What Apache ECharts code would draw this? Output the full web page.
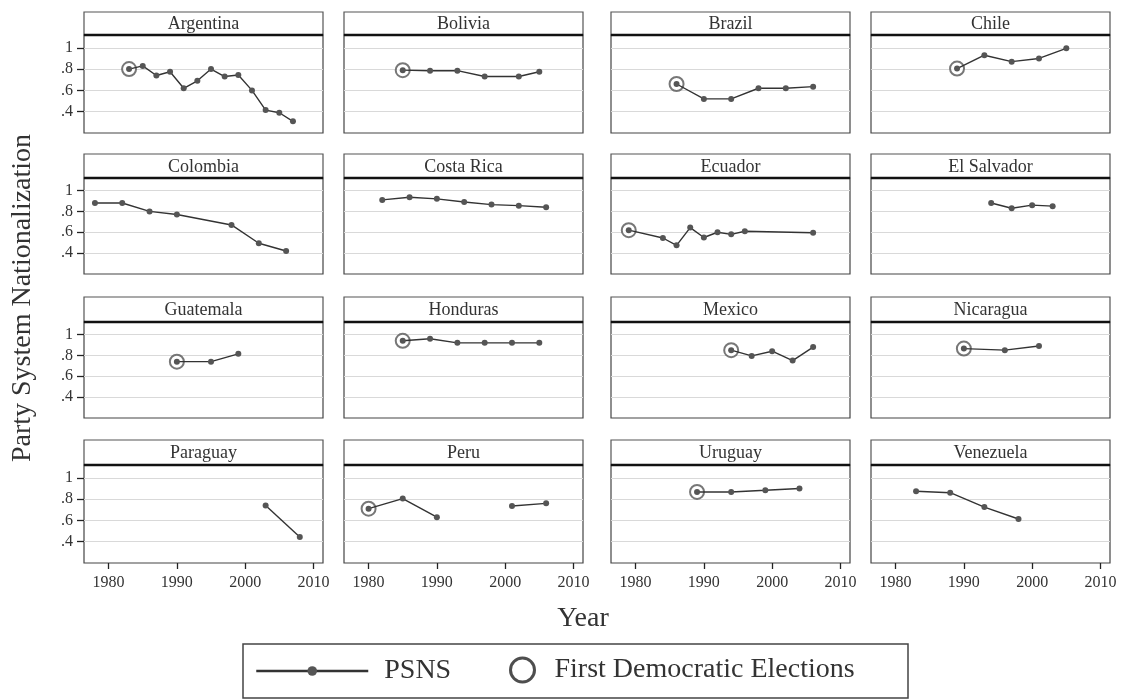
<!DOCTYPE html>
<html><head><meta charset="utf-8">
<script src="https://cdn.jsdelivr.net/npm/echarts@6.0.0/dist/echarts.min.js"></script>
<style>html,body{margin:0;padding:0;background:#fff}#chart{width:1126px;height:699px}</style>
</head><body><div id="chart"></div>
<script>
const countries = ['Argentina','Bolivia','Brazil','Chile','Colombia','Costa Rica','Ecuador','El Salvador',
  'Guatemala','Honduras','Mexico','Nicaragua','Paraguay','Peru','Uruguay','Venezuela'];

const yearsArgentina = [1983,1985,1987,1989,1991,1993,1995,1997,1999,2001,2003,2005,2007];
const psnsArgentina  = [0.80,0.83,0.74,0.775,0.62,0.69,0.80,0.73,0.745,0.60,0.415,0.39,0.31];
const yearsBolivia = [1985,1989,1993,1997,2002,2005];
const psnsBolivia  = [0.79,0.785,0.785,0.73,0.73,0.775];
const yearsBrazil = [1986,1990,1994,1998,2002,2006];
const psnsBrazil  = [0.66,0.52,0.52,0.62,0.62,0.635];
const yearsChile = [1989,1993,1997,2001,2005];
const psnsChile  = [0.805,0.93,0.87,0.90,0.995];
const yearsColombia = [1978,1982,1986,1990,1998,2002,2006];
const psnsColombia  = [0.88,0.88,0.80,0.77,0.67,0.495,0.42];
const yearsCostaRica = [1982,1986,1990,1994,1998,2002,2006];
const psnsCostaRica  = [0.91,0.935,0.92,0.89,0.865,0.855,0.84];
const yearsEcuador = [1979,1984,1986,1988,1990,1992,1994,1996,2006];
const psnsEcuador  = [0.62,0.545,0.475,0.645,0.55,0.60,0.58,0.61,0.595];
const yearsElSalvador = [1994,1997,2000,2003];
const psnsElSalvador  = [0.88,0.83,0.86,0.85];
const yearsGuatemala = [1990,1995,1999];
const psnsGuatemala  = [0.74,0.74,0.815];
const yearsHonduras = [1985,1989,1993,1997,2001,2005];
const psnsHonduras  = [0.94,0.96,0.92,0.92,0.92,0.92];
const yearsMexico = [1994,1997,2000,2003,2006];
const psnsMexico  = [0.85,0.795,0.84,0.75,0.88];
const yearsNicaragua = [1990,1996,2001];
const psnsNicaragua  = [0.865,0.85,0.89];
const yearsParaguay = [2003,2008];
const psnsParaguay  = [0.74,0.445];
const yearsPeru = [1980,1985,1990,1995,2001,2006];
const psnsPeru  = [0.71,0.805,0.63,null,0.735,0.76];
const yearsUruguay = [1989,1994,1999,2004];
const psnsUruguay  = [0.867,0.867,0.883,0.90];
const yearsVenezuela = [1983,1988,1993,1998];
const psnsVenezuela  = [0.873,0.86,0.725,0.613];

const firstElectionYears = [1983,1985,1986,1989,null,null,1979,null,1990,1985,1994,1990,null,1980,1989,null];
const xTickValues = [1980,1990,2000,2010];
const yTickValues = [0.4,0.6,0.8,1];

const yearsByCountry = [yearsArgentina,yearsBolivia,yearsBrazil,yearsChile,yearsColombia,yearsCostaRica,
  yearsEcuador,yearsElSalvador,yearsGuatemala,yearsHonduras,yearsMexico,yearsNicaragua,yearsParaguay,
  yearsPeru,yearsUruguay,yearsVenezuela];
const psnsByCountry = [psnsArgentina,psnsBolivia,psnsBrazil,psnsChile,psnsColombia,psnsCostaRica,
  psnsEcuador,psnsElSalvador,psnsGuatemala,psnsHonduras,psnsMexico,psnsNicaragua,psnsParaguay,
  psnsPeru,psnsUruguay,psnsVenezuela];

const FONT = '"Liberation Serif","DejaVu Serif",serif';
const TXT = '#333';
const colLeft = [84,344,611,871], panelW = 239;
const headTop = [12,154,297,440], plotTop = [35,178,322,465], plotBottom = [133,274,418,563];

function fmtY(v){
  if (!yTickValues.some(t => Math.abs(t - v) < 1e-6)) return '';
  const k = Math.round(v*10)/10;
  return k === 1 ? '1' : String(k).replace(/^0/, '');
}
function fmtX(v){ return xTickValues.includes(v) ? String(v) : ''; }

const grid = [], xAxis = [], yAxis = [], series = [], graphic = [];
countries.forEach((name, i) => {
  const c = i % 4, r = Math.floor(i / 4);
  const isBottom = r === 3, isLeft = c === 0;
  grid.push({left: colLeft[c], top: plotTop[r], width: panelW, height: plotBottom[r] - plotTop[r],
    show: true, borderColor: '#444', borderWidth: 1.2, backgroundColor: '#fff'});
  xAxis.push({type: 'value', gridIndex: i, min: 1976.4, max: 2011.4,
    splitLine: {show: false}, axisLine: {show: false},
    axisTick: {show: isBottom, customValues: xTickValues, length: 6, lineStyle: {color: '#222', width: 1.3}},
    axisLabel: {show: isBottom, customValues: xTickValues, margin: 12, fontFamily: FONT, fontSize: 16,
      color: TXT, formatter: fmtX}});
  yAxis.push({type: 'value', gridIndex: i, min: 0.2, max: 1.12, interval: 0.2,
    axisLine: {show: false},
    splitLine: {show: true, lineStyle: {color: '#d9d9d9', width: 1}},
    axisTick: {show: isLeft, customValues: yTickValues, length: 7, lineStyle: {color: '#222', width: 1.3}},
    axisLabel: {show: isLeft, customValues: yTickValues, margin: 11, fontFamily: FONT, fontSize: 16,
      color: TXT, formatter: fmtY}});
  const yrs = yearsByCountry[i], vals = psnsByCountry[i];
  series.push({type: 'line', name: 'PSNS', xAxisIndex: i, yAxisIndex: i, z: 3,
    data: yrs.map((y, k) => [y, vals[k] === null ? '-' : vals[k]]),
    symbol: 'circle', symbolSize: 6, showSymbol: true, connectNulls: false, animation: false,
    itemStyle: {color: '#555'}, lineStyle: {color: '#333', width: 1.4}});
  const fy = firstElectionYears[i];
  const fdata = fy === null ? [] : [[fy, vals[yrs.indexOf(fy)]]];
  series.push({type: 'scatter', name: 'First Democratic Elections', xAxisIndex: i, yAxisIndex: i, z: 2,
    data: fdata, symbol: 'emptyCircle', symbolSize: 14, animation: false,
    itemStyle: {color: '#555', borderWidth: 1.6}});
  graphic.push({type: 'rect', shape: {x: colLeft[c], y: headTop[r], width: panelW, height: plotTop[r] - headTop[r]},
    style: {fill: '#fff', stroke: '#555', lineWidth: 1.2}, z: 10});
  graphic.push({type: 'line', shape: {x1: colLeft[c], y1: plotTop[r], x2: colLeft[c] + panelW, y2: plotTop[r]},
    style: {stroke: '#111', lineWidth: 2.5}, z: 11});
  graphic.push({type: 'text', x: colLeft[c] + panelW / 2, y: (headTop[r] + plotTop[r]) / 2 + 1, z: 12,
    style: {text: name, font: '18px ' + FONT, fill: TXT, textAlign: 'center', textVerticalAlign: 'middle'}});
});

graphic.push({type: 'text', x: 23, y: 298, rotation: Math.PI / 2, z: 12,
  style: {text: 'Party System Nationalization', font: '28px ' + FONT, fill: TXT, textAlign: 'center', textVerticalAlign: 'middle'}});
graphic.push({type: 'text', x: 583, y: 619, z: 12,
  style: {text: 'Year', font: '28px ' + FONT, fill: TXT, textAlign: 'center', textVerticalAlign: 'middle'}});
graphic.push({type: 'rect', shape: {x: 243, y: 644, width: 665, height: 54},
  style: {fill: 'none', stroke: '#444', lineWidth: 1.5}, z: 10});

const chart = echarts.init(document.getElementById('chart'), null, {renderer: 'canvas'});
chart.setOption({
  backgroundColor: '#fff',
  animation: false,
  grid, xAxis, yAxis, series, graphic,
  legend: [
    {data: ['PSNS'], left: 255, top: 657, padding: 0, itemWidth: 112, itemHeight: 12, selectedMode: false,
      textStyle: {fontFamily: FONT, fontSize: 28, color: TXT, padding: [0, 0, 0, 11]},
      lineStyle: {color: '#333', width: 2.5}, itemStyle: {color: '#555'}},
    {data: [{name: 'First Democratic Elections', icon: 'circle',
        itemStyle: {color: '#fff', borderColor: '#222', borderWidth: 3}}],
      left: 509, top: 656, padding: 0,
      itemWidth: 24, itemHeight: 24, selectedMode: false,
      textStyle: {fontFamily: FONT, fontSize: 28, color: TXT, padding: [0, 0, 0, 15]},
      itemStyle: {color: '#fff', borderColor: '#222', borderWidth: 3}}
  ]
});
</script></body></html>
